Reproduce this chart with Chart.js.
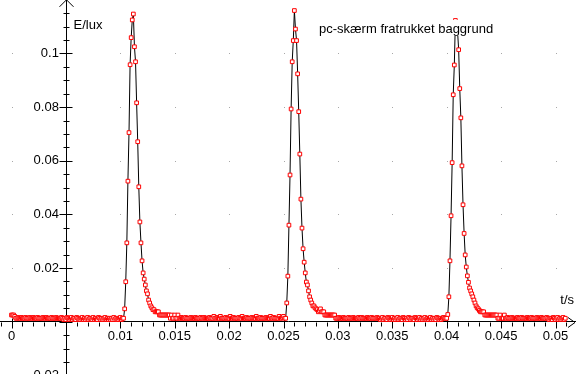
<!DOCTYPE html>
<html>
<head>
<meta charset="utf-8">
<script src="https://cdn.jsdelivr.net/npm/chart.js@4/dist/chart.umd.min.js"></script>
<style>
html,body{margin:0;padding:0;background:#fff;overflow:hidden;}
#wrap{position:relative;width:576px;height:374px;overflow:hidden;}
canvas{display:block;}
</style>
</head>
<body>
<div id="wrap"><canvas id="c" width="576" height="400"></canvas></div>
<script>
// ---- data ----
const sampleInterval = 0.0001; // s between samples, first sample at t = 0
const illuminance = [
 // 0 .. 103 : background before first pulse
 0.0025,0.0025,0.0025,0.0020,0.0013,0.0013,0.0016,0.0013,0.0013,0.0016,
 0.0013,0.0013,0.0013,0.0016,0.0013,0.0013,0.0013,0.0016,0.0013,0.0013,
 0.0016,0.0013,0.0013,0.0013,0.0016,0.0013,0.0013,0.0013,0.0013,0.0016,
 0.0013,0.0013,0.0016,0.0013,0.0013,0.0013,0.0013,0.0016,0.0013,0.0013,
 0.0013,0.0016,0.0013,0.0013,0.0013,0.0013,0.0016,0.0013,0.0008,0.0013,
 0.0008,0.0016,0.0013,0.0008,0.0013,0.0016,0.0008,0.0013,0.0013,0.0008,
 0.0016,0.0013,0.0008,0.0008,0.0013,0.0016,0.0008,0.0013,0.0008,0.0013,
 0.0016,0.0008,0.0013,0.0013,0.0008,0.0016,0.0008,0.0013,0.0008,0.0008,
 0.0016,0.0013,0.0008,0.0013,0.0008,0.0013,0.0016,0.0008,0.0013,0.0008,
 0.0013,0.0008,0.0013,0.0008,0.0016,0.0008,0.0013,0.0008,0.0008,0.0013,
 0.0016,0.0008,0.0013,0.0013,
 // 104 .. 112 : first pulse, rising
 0.0048,0.0149,0.0294,0.0524,0.0705,0.0958,0.1059,0.1125,0.1147,
 // 113 .. 144 : first pulse, decay
 0.1025,0.0969,0.0816,0.0671,0.0503,0.0372,0.0294,0.0227,0.0182,0.0159,
 0.0137,0.0115,0.0104,0.0081,0.0070,0.0059,0.0052,0.0045,0.0045,0.0037,
 0.0037,0.0037,0.0037,0.0025,0.0025,0.0025,0.0025,0.0025,0.0025,0.0025,
 0.0025,0.0025,
 // 145 .. 252 : background
 0.0025,0.0013,0.0025,0.0013,0.0013,0.0025,0.0013,0.0013,0.0025,0.0013,
 0.0013,0.0016,0.0013,0.0013,0.0013,0.0016,0.0013,0.0013,0.0013,0.0013,
 0.0016,0.0013,0.0013,0.0013,0.0016,0.0013,0.0013,0.0013,0.0013,0.0016,
 0.0013,0.0013,0.0016,0.0013,0.0013,0.0013,0.0013,0.0016,0.0013,0.0013,
 0.0013,0.0020,0.0013,0.0013,0.0016,0.0013,0.0013,0.0020,0.0013,0.0013,
 0.0013,0.0013,0.0016,0.0013,0.0013,0.0013,0.0020,0.0013,0.0013,0.0016,
 0.0013,0.0013,0.0013,0.0013,0.0016,0.0013,0.0013,0.0020,0.0013,0.0013,
 0.0013,0.0016,0.0013,0.0013,0.0013,0.0013,0.0016,0.0013,0.0013,0.0013,
 0.0020,0.0013,0.0013,0.0013,0.0016,0.0013,0.0013,0.0013,0.0013,0.0016,
 0.0013,0.0013,0.0013,0.0020,0.0013,0.0013,0.0016,0.0013,0.0013,0.0013,
 0.0013,0.0020,0.0013,0.0013,0.0016,0.0020,0.0013,0.0013,
 // 253 .. 298 : second pulse
 0.0070,0.0170,0.0360,0.0547,0.0793,0.0969,0.1048,0.1160,0.1091,0.1048,
 0.0924,0.0783,0.0625,0.0457,0.0349,0.0272,0.0222,0.0182,0.0148,0.0137,
 0.0115,0.0093,0.0081,0.0070,0.0059,0.0059,0.0052,0.0048,0.0045,0.0037,
 0.0042,0.0048,0.0037,0.0037,0.0037,0.0025,0.0025,0.0025,0.0025,0.0025,
 0.0025,0.0025,0.0025,0.0025,0.0025,0.0013,
 // 299 .. 400 : background
 0.0013,0.0013,0.0016,0.0013,0.0013,0.0013,0.0016,0.0013,0.0013,0.0013,
 0.0013,0.0016,0.0013,0.0013,0.0013,0.0016,0.0013,0.0013,0.0013,0.0013,
 0.0016,0.0013,0.0013,0.0016,0.0013,0.0013,0.0013,0.0013,0.0016,0.0013,
 0.0013,0.0013,0.0016,0.0013,0.0013,0.0013,0.0013,0.0016,0.0013,0.0013,
 0.0008,0.0013,0.0016,0.0008,0.0013,0.0013,0.0008,0.0016,0.0013,0.0008,
 0.0013,0.0016,0.0008,0.0013,0.0008,0.0013,0.0016,0.0008,0.0013,0.0013,
 0.0008,0.0016,0.0013,0.0008,0.0013,0.0008,0.0016,0.0013,0.0008,0.0013,
 0.0013,0.0008,0.0016,0.0013,0.0008,0.0013,0.0016,0.0008,0.0013,0.0008,
 0.0013,0.0016,0.0008,0.0013,0.0008,0.0013,0.0016,0.0008,0.0013,0.0008,
 0.0013,0.0008,0.0016,0.0013,0.0008,0.0013,0.0008,0.0013,0.0016,0.0013,
 0.0013,0.0013,
 // 401 .. 446 : third pulse
 0.0027,0.0093,0.0227,0.0395,0.0593,0.0846,0.0957,0.1123,0.1110,0.1080,
 0.1014,0.0869,0.0760,0.0581,0.0436,0.0329,0.0249,0.0204,0.0171,0.0147,
 0.0126,0.0115,0.0104,0.0093,0.0081,0.0070,0.0059,0.0052,0.0048,0.0042,
 0.0037,0.0037,0.0037,0.0037,0.0025,0.0025,0.0025,0.0025,0.0025,0.0025,
 0.0025,0.0025,0.0025,0.0025,0.0025,0.0025,
 // 447 .. 509 : background
 0.0013,0.0013,0.0025,0.0013,0.0013,0.0013,0.0025,0.0013,0.0013,0.0016,
 0.0013,0.0013,0.0013,0.0016,0.0013,0.0013,0.0013,0.0013,0.0016,0.0013,
 0.0013,0.0013,0.0016,0.0013,0.0013,0.0013,0.0013,0.0016,0.0013,0.0013,
 0.0013,0.0016,0.0013,0.0013,0.0013,0.0013,0.0016,0.0013,0.0013,0.0013,
 0.0016,0.0013,0.0013,0.0013,0.0013,0.0016,0.0013,0.0008,0.0013,0.0013,
 0.0008,0.0016,0.0013,0.0008,0.0013,0.0016,0.0008,0.0013,0.0008,0.0013,
 0.0016,0.0008,0.0013
];
const xTickLabels = [0, 0.01, 0.015, 0.02, 0.025, 0.03, 0.035, 0.04, 0.045, 0.05];
const yTickLabels = [-0.02, 0.02, 0.04, 0.06, 0.08, 0.1];
const xAxisTitle = 't/s';
const yAxisTitle = 'E/lux';
const noteText = 'pc-skærm fratrukket baggrund';

// ---- axis setup ----
const AREA_W = 576, AREA_H = 400;          // wanted plot area (window-aligned)
const X_MIN = -0.001057, X_MAX = 0.051884;
const Y_MIN = -0.02925, Y_MAX = 0.12;
const Y_AXIS_AT = 0.005;   // vertical axis crosses the time axis here
const X_AXIS_AT = 0;       // horizontal axis crosses the E axis here
const Y_LABEL_GAP = 7;     // px between value labels and the vertical axis
const FONT = '"Liberation Sans", Arial, sans-serif';

const points = illuminance.map((v, i) => ({ x: +(i * sampleInterval).toFixed(4), y: v }));

Chart.defaults.font.family = FONT;
Chart.defaults.font.size = 13;
Chart.defaults.color = '#000';

const decor = {
  id: 'decor',
  beforeDatasetsDraw(chart) {
    const { ctx, scales: { x, y }, chartArea } = chart;
    const ax = Math.round(x.getPixelForValue(Y_AXIS_AT)) + 0.5;
    const ay = Math.round(y.getPixelForValue(X_AXIS_AT)) + 0.5;
    ctx.save();
    // dotted grid (one dot per major crossing)
    ctx.fillStyle = '#a8a8a8';
    for (let k = 0; k <= 10; k++) {
      const gx = Math.round(x.getPixelForValue(k * 0.005));
      for (let m = -1; m <= 5; m++) {
        if (m === 0 || k === 1) continue;
        const gy = Math.round(y.getPixelForValue(m * 0.02));
        ctx.fillRect(gx, gy, 1, 1);
      }
    }
    ctx.strokeStyle = '#000';
    ctx.lineWidth = 1;
    ctx.beginPath();
    // vertical axis line
    ctx.moveTo(ax, chartArea.top); ctx.lineTo(ax, chartArea.bottom);
    // x tick marks
    for (let k = -1; k <= 51; k++) {
      const px = Math.round(x.getPixelForValue(k / 1000)) + 0.5;
      if (k % 5 === 0) { ctx.moveTo(px, ay - 4); ctx.lineTo(px, ay + 6); }
      else { ctx.moveTo(px, ay); ctx.lineTo(px, ay + 4); }
    }
    // y tick marks
    for (let k = -5; k <= 23; k++) {
      const py = Math.round(y.getPixelForValue(k * 0.005)) + 0.5;
      if (k % 4 === 0) { ctx.moveTo(ax - 7, py); ctx.lineTo(ax + 6, py); }
      else { ctx.moveTo(ax - 3, py); ctx.lineTo(ax + 3, py); }
    }
    // arrow heads
    ctx.moveTo(ax - 7, chartArea.top + 7); ctx.lineTo(ax, chartArea.top); ctx.lineTo(ax + 7, chartArea.top + 7);
    ctx.moveTo(chartArea.left + 568, ay - 5); ctx.lineTo(chartArea.left + 575, ay); ctx.lineTo(chartArea.left + 568, ay + 5);
    ctx.stroke();
    // axis titles
    ctx.fillStyle = '#000';
    ctx.font = '13px ' + FONT;
    ctx.textBaseline = 'alphabetic';
    ctx.textAlign = 'left';
    ctx.fillText(yAxisTitle, ax + 7, chartArea.top + 29);
    ctx.textAlign = 'right';
    ctx.fillText(xAxisTitle, chartArea.left + 574, ay - 19);
    ctx.restore();
  },
  afterDatasetsDraw(chart) {
    const { ctx, chartArea } = chart;
    ctx.save();
    ctx.font = '13px ' + FONT;
    const w = ctx.measureText(noteText).width;
    const left = chartArea.left + 319, base = chartArea.top + 33;
    ctx.fillStyle = '#fff';
    ctx.fillRect(left - 1, chartArea.top + 20, w + 3, 16);
    ctx.fillStyle = '#000';
    ctx.textBaseline = 'alphabetic';
    ctx.textAlign = 'left';
    ctx.fillText(noteText, left, base);
    ctx.restore();
  }
};

function makeConfig() {
  const pxPerUnit = AREA_W / (X_MAX - X_MIN);
  return {
    type: 'scatter',
    data: {
      datasets: [{
        data: points,
        showLine: true,
        borderColor: '#000',
        borderWidth: 1,
        tension: 0,
        pointStyle: 'rect',
        pointRadius: 2.6,
        pointBorderWidth: 1,
        pointBorderColor: '#ff0000',
        pointBackgroundColor: '#ffffff',
        clip: false
      }]
    },
    options: {
      responsive: false,
      devicePixelRatio: 1,
      animation: false,
      events: [],
      layout: { padding: 0 },
      plugins: { legend: { display: false }, tooltip: { enabled: false }, title: { display: false } },
      scales: {
        x: {
          type: 'linear', min: X_MIN, max: X_MAX,
          position: { y: X_AXIS_AT },
          grid: { display: false, drawTicks: false },
          border: { display: true, color: '#000', width: 1 },
          afterBuildTicks: s => { s.ticks = xTickLabels.map(v => ({ value: v })); },
          ticks: { autoSkip: false, maxRotation: 0, padding: 7, callback: v => String(v) }
        },
        y: {
          type: 'linear', min: Y_MIN, max: Y_MAX,
          position: { x: Y_AXIS_AT - Y_LABEL_GAP / pxPerUnit },
          grid: { display: false, drawTicks: false },
          border: { display: false },
          afterBuildTicks: s => { s.ticks = yTickLabels.map(v => ({ value: v })); },
          ticks: { autoSkip: false, padding: 0, callback: v => String(v) }
        }
      }
    },
    plugins: [decor]
  };
}

const canvas = document.getElementById('c');
let chart = new Chart(canvas, makeConfig());
const ca = chart.chartArea;
const L = Math.round(ca.left), T = Math.round(ca.top);
const R = Math.round(AREA_W - ca.right), B = Math.round(AREA_H - ca.bottom);
if (L || T || R || B) {
  chart.destroy();
  canvas.width = AREA_W + L + R;
  canvas.height = AREA_H + T + B;
  canvas.style.marginLeft = (-L) + 'px';
  canvas.style.marginTop = (-T) + 'px';
  chart = new Chart(canvas, makeConfig());
}
</script>
</body>
</html>
